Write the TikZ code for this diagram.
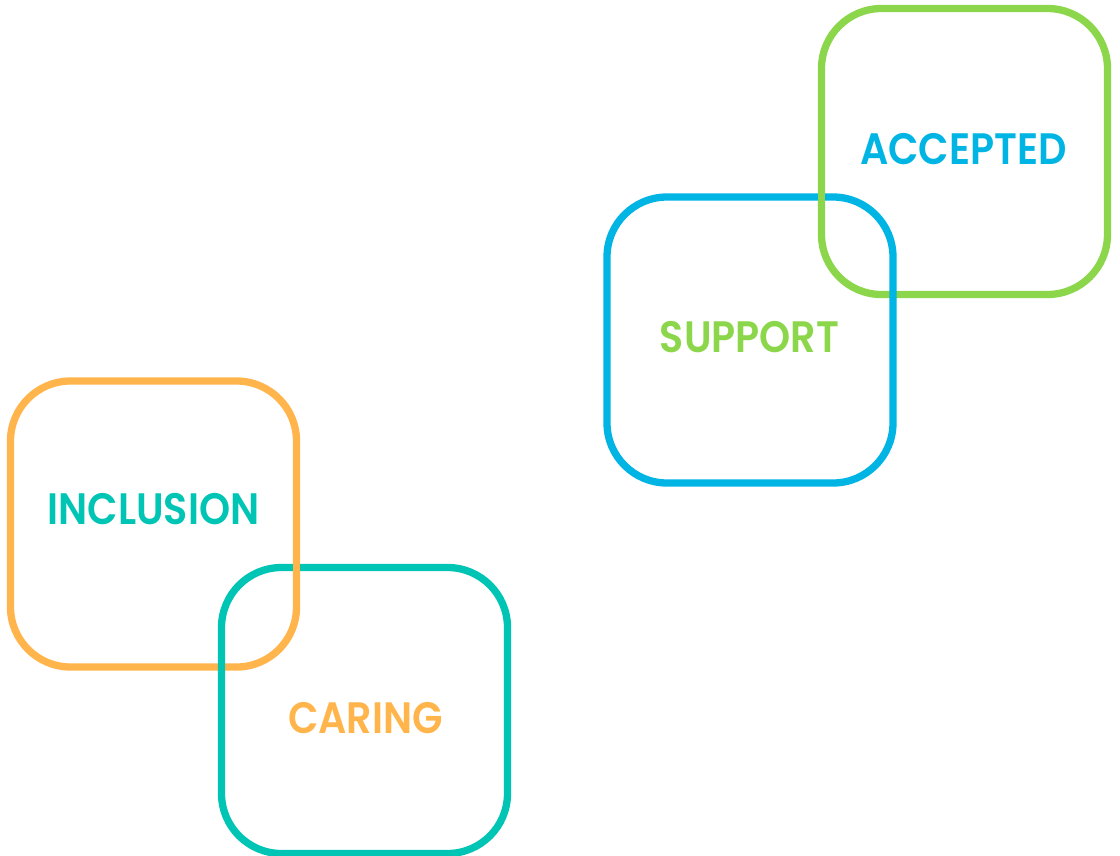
\documentclass[tikz,border=0pt]{standalone}
\usepackage{fontspec}
\setmainfont{Poppins}[BoldFont={Poppins SemiBold}]
\definecolor{vgreen}{HTML}{8CD64B}
\definecolor{vblue}{HTML}{00B4E4}
\definecolor{vorange}{HTML}{FFB54C}
\definecolor{vteal}{HTML}{00C4B4}
\newcommand{\narrow}[1]{\scalebox{0.9}[1]{#1}}
\begin{document}
\begin{tikzpicture}[x=1pt,y=-1pt,
  frame/.style={draw=#1, line width=7.3pt, rounded corners=60pt,
    minimum width=286pt, minimum height=286pt, inner sep=0pt, outer sep=0pt},
  edge/.style={draw=#1, line width=7.3pt},
  word/.style={text=#1, font=\fontsize{44}{44}\selectfont\bfseries, inner sep=0pt}]
\useasboundingbox (0,0) rectangle (1120,855);

% upper pair of frames
\node[frame=vgreen] (acc) at (964.5,151.5) {};
\node[frame=vblue] (sup) at (750,340) {};
% green passes over blue at the upper-left crossing
\draw[edge=vgreen] ([yshift=-20pt]acc.west |- sup.north) -- ([yshift=20pt]acc.west |- sup.north);

% lower pair of frames
\node[frame=vorange] (inc) at (153.5,524) {};
\node[frame=vteal] (car) at (364.5,710.5) {};
% orange passes over teal at the upper-right crossing
\draw[edge=vorange] ([yshift=-20pt]inc.east |- car.north) -- ([yshift=20pt]inc.east |- car.north);

% labels
\node[word=vblue] (tacc) at (963.5,149) {\narrow{ACCEPTED}};
\node[word=vgreen] (tsup) at (749.5,337.5) {\narrow{SUPPORT}};
\node[word=vteal] (tinc) at (153.5,508.7) {\narrow{INCLUSION}};
\node[word=vorange] (tcar) at (365.5,718.5) {\narrow{CARING}};
\end{tikzpicture}
\end{document}
